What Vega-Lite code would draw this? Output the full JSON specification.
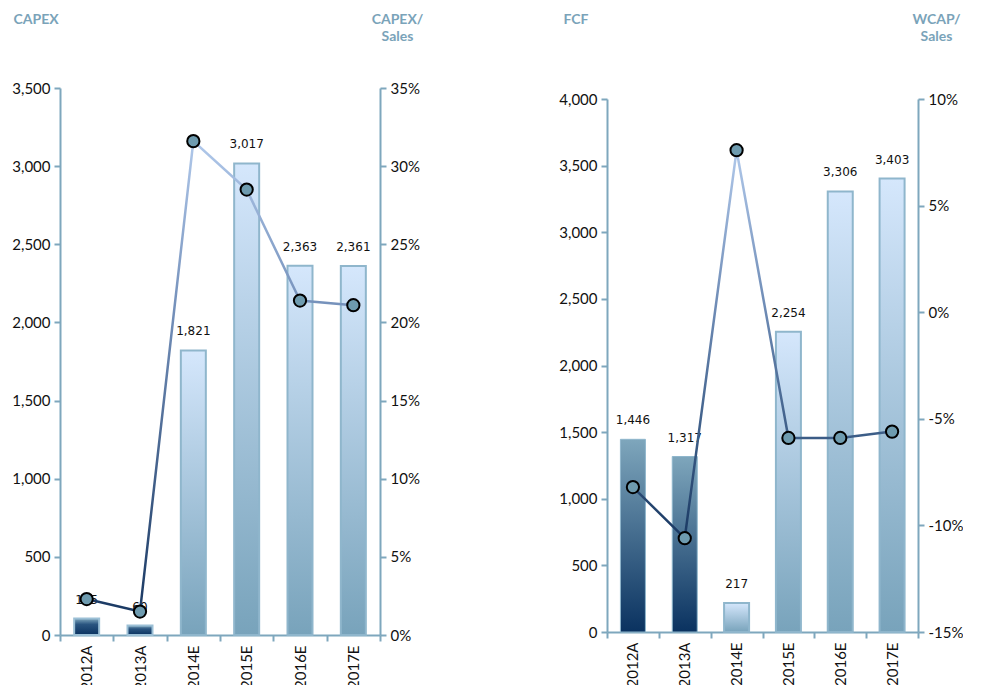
{
  "$schema": "https://vega.github.io/schema/vega-lite/v6.json",
  "background": "white",
  "padding": {"left": 11, "top": 12, "right": 0, "bottom": 0},
  "spacing": 135,
  "datasets": {
    "capex": [
      {"year": "2012A", "value": 105, "ratio": 2.3, "kind": "A"},
      {"year": "2013A", "value": 60, "ratio": 1.5, "kind": "A"},
      {"year": "2014E", "value": 1821, "ratio": 31.6, "kind": "E"},
      {"year": "2015E", "value": 3017, "ratio": 28.5, "kind": "E"},
      {"year": "2016E", "value": 2363, "ratio": 21.4, "kind": "E"},
      {"year": "2017E", "value": 2361, "ratio": 21.1, "kind": "E"}
    ],
    "fcf": [
      {"year": "2012A", "value": 1446, "ratio": -8.2, "kind": "A"},
      {"year": "2013A", "value": 1317, "ratio": -10.6, "kind": "A"},
      {"year": "2014E", "value": 217, "ratio": 7.6, "kind": "E"},
      {"year": "2015E", "value": 2254, "ratio": -5.9, "kind": "E"},
      {"year": "2016E", "value": 3306, "ratio": -5.9, "kind": "E"},
      {"year": "2017E", "value": 3403, "ratio": -5.6, "kind": "E"}
    ]
  },
  "config": {
    "view": {"stroke": null},
    "axis": {
      "grid": false,
      "domainColor": "#7ea7bd",
      "domainWidth": 2,
      "tickColor": "#7ea7bd",
      "tickWidth": 2,
      "tickSize": 6,
      "labelFont": "Lato",
      "labelFontSize": 15,
      "labelColor": "#111111",
      "labelPadding": 4,
      "titleFont": "Lato",
      "titleFontSize": 14,
      "titleFontWeight": "bold",
      "titleColor": "#7aa3b9",
      "titleAngle": 0,
      "titleBaseline": "alphabetic",
      "titleLineHeight": 17
    }
  },
  "hconcat": [
    {
      "width": 320,
      "height": 547,
      "data": {"name": "capex"},
      "encoding": {
        "x": {
          "field": "year",
          "type": "nominal",
          "sort": null,
          "scale": {"paddingInner": 0, "paddingOuter": 0},
          "axis": {"title": null, "labelAngle": -90, "labelAlign": "right", "labelBaseline": "middle", "tickBand": "extent"}
        }
      },
      "layer": [
        {
          "encoding": {
            "y": {
              "field": "value",
              "type": "quantitative",
              "scale": {"domain": [0, 3500], "nice": false},
              "axis": {"values": [0, 500, 1000, 1500, 2000, 2500, 3000, 3500], "format": ",.0f", "title": "CAPEX", "titleX": -47, "titleY": -65, "titleAlign": "left"}
            }
          },
          "layer": [
            {
              "transform": [{"filter": "datum.kind === 'A'"}],
              "mark": {
                "type": "bar", "size": 25, "stroke": "#9cc0d6", "strokeWidth": 2,
                "fill": {"gradient": "linear", "x1": 0, "y1": 0, "x2": 0, "y2": 1,
                  "stops": [{"offset": 0, "color": "#7ea6bc"}, {"offset": 0.35, "color": "#2a5580"}, {"offset": 1, "color": "#0a3260"}]}
              }
            },
            {
              "transform": [{"filter": "datum.kind === 'E'"}],
              "mark": {
                "type": "bar", "size": 25, "stroke": "#8fb6cc", "strokeWidth": 2,
                "fill": {"gradient": "linear", "x1": 0, "y1": 0, "x2": 0, "y2": 1,
                  "stops": [{"offset": 0, "color": "#d5e7fc"}, {"offset": 1, "color": "#78a3bb"}]}
              }
            },
            {
              "mark": {"type": "text", "dy": -19, "font": "DejaVu Sans", "fontSize": 12, "color": "#111111", "baseline": "middle"},
              "encoding": {"text": {"field": "value", "type": "quantitative", "format": ","}}
            }
          ]
        },
        {
          "encoding": {
            "y": {
              "field": "ratio",
              "type": "quantitative",
              "scale": {"domain": [0, 35], "nice": false},
              "axis": {"orient": "right", "values": [0, 5, 10, 15, 20, 25, 30, 35], "labelExpr": "datum.value + '%'", "title": ["CAPEX/", "Sales"], "titleX": 17, "titleY": -65, "titleAlign": "center"}
            }
          },
          "layer": [
            {
              "mark": {
                "type": "line", "strokeWidth": 2.5,
                "stroke": {"gradient": "linear", "x1": 0, "y1": 0, "x2": 0, "y2": 1,
                  "stops": [{"offset": 0, "color": "#b0c8ea"}, {"offset": 0.35, "color": "#7591bb"}, {"offset": 1, "color": "#1a3963"}]}
              }
            },
            {
              "mark": {"type": "point", "shape": "circle", "filled": true, "size": 150, "fill": "#6e9baf", "stroke": "#000000", "strokeWidth": 2, "opacity": 1}
            }
          ]
        }
      ],
      "resolve": {"scale": {"y": "independent"}}
    },
    {
      "width": 311,
      "height": 544,
      "data": {"name": "fcf"},
      "encoding": {
        "x": {
          "field": "year",
          "type": "nominal",
          "sort": null,
          "scale": {"paddingInner": 0, "paddingOuter": 0},
          "axis": {"title": null, "labelAngle": -90, "labelAlign": "right", "labelBaseline": "middle", "tickBand": "extent"}
        }
      },
      "layer": [
        {
          "encoding": {
            "y": {
              "field": "value",
              "type": "quantitative",
              "scale": {"domain": [0, 4000], "nice": false, "range": [544, 11]},
              "axis": {"values": [0, 500, 1000, 1500, 2000, 2500, 3000, 3500, 4000], "format": ",.0f", "title": "FCF", "titleX": -44, "titleY": -65, "titleAlign": "left"}
            }
          },
          "layer": [
            {
              "transform": [{"filter": "datum.kind === 'A'"}],
              "mark": {
                "type": "bar", "size": 25, "stroke": "#8fb6cc", "strokeWidth": 1,
                "fill": {"gradient": "linear", "x1": 0, "y1": 0, "x2": 0, "y2": 1,
                  "stops": [{"offset": 0, "color": "#7ea6bc"}, {"offset": 1, "color": "#0a3260"}]}
              }
            },
            {
              "transform": [{"filter": "datum.kind === 'E'"}],
              "mark": {
                "type": "bar", "size": 25, "stroke": "#8fb6cc", "strokeWidth": 2,
                "fill": {"gradient": "linear", "x1": 0, "y1": 0, "x2": 0, "y2": 1,
                  "stops": [{"offset": 0, "color": "#d5e7fc"}, {"offset": 1, "color": "#78a3bb"}]}
              }
            },
            {
              "mark": {"type": "text", "dy": -19, "font": "DejaVu Sans", "fontSize": 12, "color": "#111111", "baseline": "middle"},
              "encoding": {"text": {"field": "value", "type": "quantitative", "format": ","}}
            }
          ]
        },
        {
          "encoding": {
            "y": {
              "field": "ratio",
              "type": "quantitative",
              "scale": {"domain": [-15, 10], "nice": false, "range": [544, 11]},
              "axis": {"orient": "right", "values": [-15, -10, -5, 0, 5, 10], "labelExpr": "datum.value + '%'", "title": ["WCAP/", "Sales"], "titleX": 18, "titleY": -65, "titleAlign": "center"}
            }
          },
          "layer": [
            {
              "mark": {
                "type": "line", "strokeWidth": 2.5,
                "stroke": {"gradient": "linear", "x1": 0, "y1": 0, "x2": 0, "y2": 1,
                  "stops": [{"offset": 0, "color": "#b0c8ea"}, {"offset": 0.4, "color": "#6f8cb6"}, {"offset": 0.75, "color": "#3a5b85"}, {"offset": 1, "color": "#1a3963"}]}
              }
            },
            {
              "mark": {"type": "point", "shape": "circle", "filled": true, "size": 150, "fill": "#6e9baf", "stroke": "#000000", "strokeWidth": 2, "opacity": 1}
            }
          ]
        }
      ],
      "resolve": {"scale": {"y": "independent"}}
    }
  ]
}
